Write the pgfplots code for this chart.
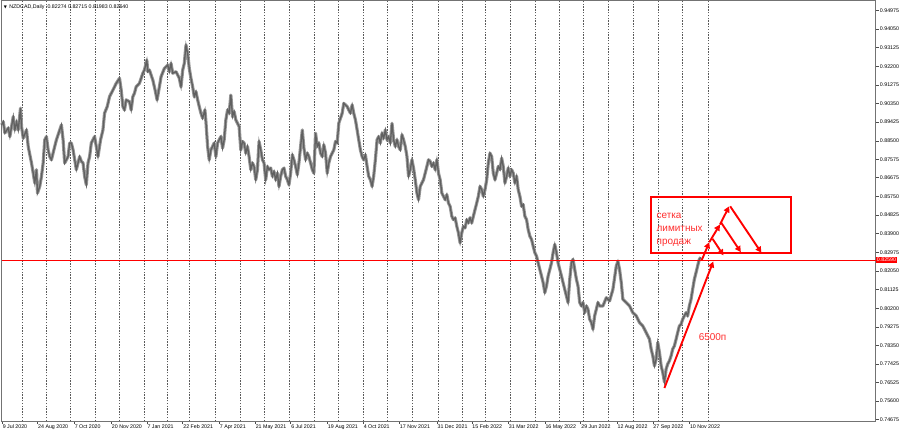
\documentclass[border=0pt]{standalone}
\usepackage{fontspec}
\setmainfont{Liberation Sans}
\newfontfamily\dejavu{DejaVu Sans}
\usepackage{pgfplots}
\usepackage{pgfplotstable}
\pgfplotsset{compat=1.18}
\usetikzlibrary{arrows.meta}
\definecolor{candle}{RGB}{96,96,96}
\definecolor{candlelight}{RGB}{150,150,150}
\definecolor{gridc}{RGB}{90,90,90}
\definecolor{mtred}{RGB}{255,0,0}
\definecolor{txtred}{RGB}{255,45,45}
\newcommand{\tinyf}{\fontsize{5.3}{6}\selectfont}
\pgfplotstableread{
x y
0 0.8929
1.7 0.8945
3.3 0.8889
6.7 0.8914
8.3 0.8871
11.7 0.8970
13.3 0.8904
15 0.8945
16.7 0.8904
19 0.9012
20 0.8921
21.7 0.8863
25 0.8904
26.7 0.8822
30 0.8740
31.7 0.8690
33.3 0.8641
35 0.8707
36 0.8591
38.3 0.8624
40 0.8674
41.7 0.8740
43.3 0.8855
45 0.8871
46.7 0.8805
48.3 0.8772
50 0.8756
53.3 0.8822
55 0.8855
58.3 0.8904
60 0.8929
61.7 0.8855
63.3 0.8740
66.7 0.8772
68.3 0.8839
70 0.8839
71.7 0.8805
75 0.8707
78.3 0.8772
80 0.8748
81.7 0.8740
83.3 0.8674
85 0.8632
86.7 0.8740
88.3 0.8772
90 0.8839
93.3 0.8871
95 0.8822
96.7 0.8772
99.3 0.8855
101.7 0.8904
103.3 0.8987
106 0.9020
108.3 0.9069
111.7 0.9102
115 0.9135
118.3 0.9160
120 0.9102
121.7 0.9020
123.3 0.9003
125 0.9053
128.3 0.9044
130 0.9003
131.7 0.9069
133.3 0.9086
135 0.9118
138.3 0.9135
141.7 0.9185
143.3 0.9201
145.7 0.9250
146.7 0.9193
148.3 0.9201
151.7 0.9152
154 0.9102
156 0.9053
158.3 0.9118
160 0.9168
163.3 0.9209
166.7 0.9226
168.3 0.9193
170 0.9234
171.7 0.9185
175 0.9193
178.3 0.9160
180 0.9118
181.7 0.9201
183.3 0.9234
185 0.9325
186.7 0.9283
188.3 0.9209
190 0.9160
191.7 0.9118
193.3 0.9069
195 0.9094
196.7 0.9053
198.3 0.9020
200 0.8987
201.7 0.8962
204 0.9003
205 0.8945
206.7 0.8822
208.3 0.8756
210 0.8805
213.3 0.8839
215 0.8772
216.7 0.8839
220 0.8871
221.7 0.8814
223.3 0.8855
225 0.8954
226.7 0.9003
228.3 0.8987
230 0.9077
231.7 0.8970
233.3 0.8995
235 0.8954
238.3 0.8921
240 0.8805
241.7 0.8847
243.3 0.8839
245 0.8789
246.7 0.8822
248.3 0.8772
250 0.8707
251.7 0.8740
253.3 0.8723
255 0.8657
256.7 0.8707
258.3 0.8847
260 0.8805
261.7 0.8756
263.3 0.8740
265 0.8657
266.7 0.8723
268.3 0.8707
270 0.8715
271.7 0.8674
273.3 0.8698
275 0.8657
276.7 0.8690
278.3 0.8624
280 0.8674
281.7 0.8707
283.3 0.8715
285 0.8674
286.7 0.8657
288.3 0.8632
290 0.8690
291.7 0.8781
293.3 0.8756
295 0.8723
296.7 0.8682
298.3 0.8740
300 0.8822
301.7 0.8904
303.3 0.8814
305 0.8756
306.7 0.8789
308.3 0.8772
310 0.8740
311.7 0.8707
313.3 0.8690
315 0.8888
316.7 0.8822
318.3 0.8839
320 0.8789
321.7 0.8772
323.3 0.8830
325 0.8789
326.7 0.8690
328.3 0.8740
330 0.8772
331.7 0.8789
333.3 0.8805
335 0.8847
336.7 0.8839
338.3 0.8937
340 0.8962
341.7 0.8987
343.3 0.9036
345 0.9028
346.7 0.9020
348.3 0.9003
350 0.8987
351.7 0.9028
353.3 0.8987
355 0.8954
356.7 0.8904
358.3 0.8855
360 0.8805
361.7 0.8772
363.3 0.8756
365 0.8781
366.7 0.8723
368.3 0.8674
370 0.8657
371.7 0.8624
373.3 0.8674
375 0.8756
376.7 0.8855
378.3 0.8871
380 0.8839
381.7 0.8888
383.3 0.8863
385 0.8904
386.7 0.8855
388.3 0.8871
390 0.8839
391.7 0.8937
393.3 0.8855
395 0.8822
396.7 0.8855
398.3 0.8822
400 0.8805
401.7 0.8880
403.3 0.8855
405 0.8822
406.7 0.8772
408.3 0.8674
410 0.8707
411.7 0.8756
413.3 0.8715
415 0.8657
416.7 0.8591
418.3 0.8558
420 0.8624
421.7 0.8641
423.3 0.8657
425 0.8690
426.7 0.8723
428.3 0.8756
430 0.8748
431.7 0.8723
433.3 0.8740
435 0.8707
436.7 0.8756
438.3 0.8690
440 0.8657
441.7 0.8591
443.3 0.8575
445 0.8558
446.7 0.8583
448.3 0.8542
450 0.8525
451.7 0.8476
453.3 0.8459
455 0.8468
456.7 0.8426
458.3 0.8394
460 0.8344
461.7 0.8394
463.3 0.8426
465 0.8418
466.7 0.8459
468.3 0.8443
470 0.8468
471.7 0.8443
473.3 0.8476
475 0.8509
476.7 0.8542
478.3 0.8575
480 0.8624
481.7 0.8608
483.3 0.8575
485 0.8608
486.7 0.8657
488.3 0.8740
490 0.8789
491.7 0.8772
493.3 0.8690
495 0.8657
496.7 0.8690
498.3 0.8723
500 0.8707
501.7 0.8764
503.3 0.8723
505 0.8641
506.7 0.8674
508.3 0.8715
510 0.8674
511.7 0.8707
513.3 0.8690
515 0.8641
516.7 0.8674
518.3 0.8608
520 0.8575
521.7 0.8525
523.3 0.8534
525 0.8476
526.7 0.8459
528.3 0.8410
530 0.8377
531.7 0.8361
533.3 0.8328
535 0.8295
536.7 0.8278
538.3 0.8245
540 0.8212
541.7 0.8179
543.3 0.8147
545 0.8097
546.7 0.8130
548.3 0.8179
550 0.8212
551.7 0.8245
553.3 0.8295
555 0.8336
556.7 0.8295
558.3 0.8245
560 0.8212
561.7 0.8179
563.3 0.8147
565 0.8113
566.7 0.8080
568.3 0.8048
570 0.8163
571.7 0.8245
573.3 0.8262
575 0.8212
576.7 0.8163
578.3 0.8130
580 0.8048
581.7 0.8031
583.3 0.8048
585 0.7998
586.7 0.8031
588.3 0.8015
590 0.7965
591.7 0.7949
593.3 0.7916
595 0.7982
596.7 0.8015
598.3 0.8048
600 0.8031
603.3 0.8031
606.7 0.8072
610 0.8056
613.3 0.8113
616.7 0.8229
618.3 0.8253
620 0.8212
621.7 0.8147
623.3 0.8064
626.7 0.8048
630 0.8031
633.3 0.7998
636.7 0.7982
640 0.7949
643.3 0.7932
646.7 0.7899
650 0.7866
651.7 0.7817
653.3 0.7784
655 0.7734
656.7 0.7767
658.3 0.7850
660 0.7801
661.7 0.7734
663.3 0.7702
665 0.7654
666.7 0.7718
668.3 0.7743
670 0.7759
671.7 0.7784
673.3 0.7817
675 0.7833
676.7 0.7866
678.3 0.7899
680 0.7932
681.7 0.7940
683.3 0.7965
685 0.7982
686.7 0.7998
688.3 0.7982
690 0.8031
691.7 0.8064
693.3 0.8113
695 0.8163
696.7 0.8196
698.3 0.8229
700 0.8262
701.5 0.8272
}\price
\begin{document}
\begin{tikzpicture}
\begin{axis}[
  scale only axis, width=877pt, height=422pt,
  xmin=0, xmax=877, ymin=0.74610, ymax=0.95469,
  axis line style={draw=black!55, line width=0.6pt},
  xtick pos=bottom, ytick pos=right, tick align=outside,
  major tick length=3pt,
  major tick style={black!70, line width=0.5pt},
  yticklabel pos=right,
  xtick={0.5,36,72.7,110,145.7,181.7,218.3,254.3,290,326.7,362.7,399,436.7,471.7,508.3,545,581,617.3,653.3,690},
  xticklabels={9 Jul 2020,24 Aug 2020,7 Oct 2020,20 Nov 2020,7 Jan 2021,22 Feb 2021,7 Apr 2021,21 May 2021,6 Jul 2021,19 Aug 2021,4 Oct 2021,17 Nov 2021,31 Dec 2021,15 Feb 2022,31 Mar 2022,16 May 2022,29 Jun 2022,12 Aug 2022,27 Sep 2022,10 Nov 2022},
  ytick={0.94975,0.94050,0.93125,0.92200,0.91275,0.90350,0.89425,0.88500,0.87575,0.86675,0.85750,0.84825,0.83900,0.82975,0.82050,0.81125,0.80200,0.79275,0.78350,0.77425,0.76525,0.75600,0.74675},
  yticklabels={0.94975,0.94050,0.93125,0.92200,0.91275,0.90350,0.89425,0.88500,0.87575,0.86675,0.85750,0.84825,0.83900,0.82975,0.82050,0.81125,0.80200,0.79275,0.78350,0.77425,0.76525,0.75600,0.74675},
  xticklabel style={font=\tinyf, anchor=north west, inner xsep=0.5pt, inner ysep=1pt},
  yticklabel style={font=\tinyf, anchor=west, inner xsep=1pt},
  minor xtick={20.7,44.3,69.3,94.3,118.3,143.3,165.7,188.7,214.3,239.3,263.3,288.3,313.3,337.7,362.7,386.7,411.7,437.7,461.7,485,510.7,535,559.3,584,608.3,633.3,658.7,682.7,709.3},
  xminorgrids,
  minor grid style={gridc, dash pattern=on 1.4pt off 1.4pt, line width=0.5pt},
  minor tick length=0pt,
  clip=false,
]
\addplot[candlelight, line width=3.2pt, line join=round] table[x=x,y=y] {\price};
\addplot[candle, line width=1.3pt, line join=miter] table[x=x,y=y] {\price};
% red level line and its price label
\draw[mtred, line width=0.8pt] (axis cs:0,0.8259) -- (axis cs:877,0.8259);
\node[fill=mtred, text=white, anchor=west, inner xsep=1pt, inner ysep=1pt, font=\tinyf] at (axis cs:877,0.8259) {0.82590};
% header
\node[anchor=west, inner sep=0pt, font=\tinyf] at (axis cs:2,0.95123) {{\dejavu\fontsize{4}{5}\selectfont ▼}\hspace{2.5pt}NZDCAD,Daily\hspace{3pt}0.82274 0.82715 0.81983 0.82640};
% annotation box
\draw[mtred, line width=2pt] (axis cs:652,0.85731) rectangle (axis cs:792,0.82914);
\node[txtred, anchor=base west, inner sep=0pt, font=\fontsize{10}{12}\selectfont] at (axis cs:657,0.84644) {сетка};
\node[txtred, anchor=base west, inner sep=0pt, font=\fontsize{10}{12}\selectfont] at (axis cs:657,0.84026) {лимитных};
\node[txtred, anchor=base west, inner sep=0pt, font=\fontsize{10}{12}\selectfont] at (axis cs:657,0.83383) {продаж};
% arrows
\tikzset{ar/.style={mtred, line width=1.9pt, -{Triangle[length=6pt,width=6pt]}}}
\draw[ar] (axis cs:665,0.76241) -- (axis cs:714,0.82518);
\draw[ar] (axis cs:702.3,0.82568) -- (axis cs:710,0.83472);
\draw[ar] (axis cs:710,0.83472) -- (axis cs:720.7,0.84347);
\draw[ar] (axis cs:720.7,0.84347) -- (axis cs:730,0.85252);
\draw[ar] (axis cs:713.3,0.83640) -- (axis cs:724.3,0.82815);
\draw[ar] (axis cs:721.7,0.84461) -- (axis cs:741.7,0.82978);
\draw[ar] (axis cs:731,0.85252) -- (axis cs:762.3,0.82948);
\node[txtred, inner sep=0pt, font=\fontsize{10}{12}\selectfont] at (axis cs:713.3,0.78747) {6500п};
\end{axis}
\path[use as bounding box] ([yshift=-13pt]current axis.south west) rectangle ([xshift=23pt]current axis.north east);
\end{tikzpicture}
\end{document}
